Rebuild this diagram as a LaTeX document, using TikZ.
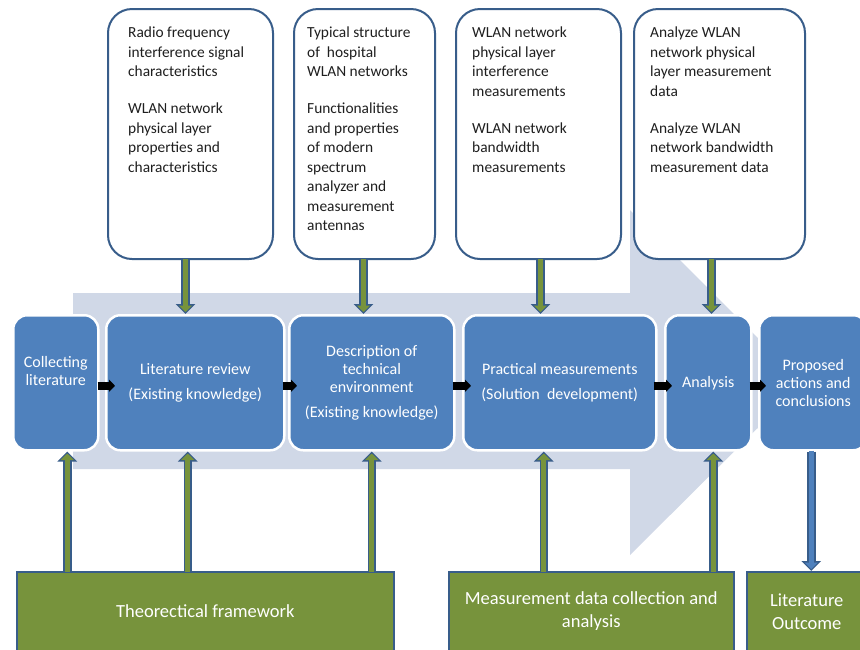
\documentclass[tikz,border=0pt]{standalone}
\usepackage{fontspec}
\setmainfont{Carlito}
\usetikzlibrary{arrows.meta,calc}
\definecolor{boxblue}{HTML}{4F81BD}
\definecolor{bandc}{HTML}{D0D8E7}
\definecolor{grn}{HTML}{77933C}
\definecolor{edgec}{HTML}{385D8A}
\definecolor{txtc}{HTML}{1F1F1F}
\begin{document}
\begin{tikzpicture}[x=1pt,y=-1pt,
  blueb/.style={draw=white, line width=2.5pt, fill=boxblue, rounded corners=14pt, anchor=north west, text=white, align=center, font=\fontsize{16}{18}\selectfont, inner sep=0pt},
  bluetxt/.style={text=white, align=center, font=\fontsize{16}{18}\selectfont, inner sep=0pt},
  topb/.style={draw=edgec, line width=2pt, fill=white, rounded corners=24pt, anchor=north west, inner sep=0pt},
  toptxt/.style={anchor=north west, align=left, font=\fontsize{15.4}{19.5}\selectfont, text=txtc, inner sep=0pt},
  grnb/.style={draw=edgec, line width=1.5pt, fill=grn, anchor=north west, inner sep=0pt},
  grntxt/.style={text=white, align=center, font=\fontsize{18.5}{23}\selectfont, inner sep=0pt},
  blkarr/.style={black, line width=8pt, -{Triangle[length=6pt,width=12pt]}},
  gout/.style={edgec, line width=8.5pt, -{Triangle[length=10pt,width=19pt]}},
  gin/.style={grn, line width=5pt, -{Triangle[length=6.5pt,width=13pt]}, shorten >=2pt},
  bin/.style={boxblue, line width=5pt, -{Triangle[length=6.5pt,width=13pt]}, shorten >=2pt}
]
\useasboundingbox (0,0) rectangle (860,649);
% background big arrow
\fill[bandc] (73,293) -- (630,293) -- (630,210) -- (803,383) -- (630,555) -- (630,469) -- (73,469) -- cycle;

% top boxes
\node[topb, minimum width=165pt, minimum height=250pt] (t1) at (107,8) {};
\node[topb, minimum width=141pt, minimum height=250pt] (t2) at (293,8) {};
\node[topb, minimum width=165pt, minimum height=250pt] (t3) at (455,8) {};
\node[topb, minimum width=171pt, minimum height=250pt] (t4) at (633,8) {};
\node[toptxt] (t1x) at (128,27) {Radio frequency\\interference signal\\characteristics\\[17.5pt]WLAN network\\physical layer\\properties and\\characteristics};
\node[toptxt] (t2x) at (307,27) {Typical structure\\of\ \ hospital\\WLAN networks\\[17.5pt]Functionalities\\and properties\\of modern\\spectrum\\analyzer and\\measurement\\antennas};
\node[toptxt] (t3x) at (472,27) {WLAN network\\physical layer\\interference\\measurements\\[17.5pt]WLAN network\\bandwidth\\measurements};
\node[toptxt] (t4x) at (650,27) {Analyze WLAN\\network physical\\layer measurement\\data\\[17.5pt]Analyze WLAN\\network bandwidth\\measurement data};

% blue process boxes
\node[blueb, minimum width=85pt, minimum height=135pt] (cl) at (12,314) {};
\node[bluetxt] (clx) at ($(cl.center)+(0,-12)$) {Collecting\\literature};
\node[blueb, minimum width=178pt, minimum height=135pt] (lr) at (105,314) {Literature review\\[7pt](Existing knowledge)};
\node[blueb, minimum width=165pt, minimum height=135pt] (de) at (288,314) {Description of\\technical\\environment\\[7pt](Existing knowledge)};
\node[blueb, minimum width=193pt, minimum height=135pt] (pm) at (462,314) {Practical measurements\\[7pt](Solution\ \ development)};
\node[blueb, minimum width=86pt, minimum height=135pt] (an) at (664,314) {Analysis};
\node[blueb, minimum width=108pt, minimum height=135pt] (pa) at (758,314) {Proposed\\actions and\\conclusions};

% bottom green boxes
\node[grnb, minimum width=377pt, minimum height=79pt] (tf) at (16,571) {};
\node[grntxt] (tfx) at (tf.center) {Theorectical framework};
\node[grnb, minimum width=285pt, minimum height=79pt] (md) at (448,571) {};
\node[grntxt] (mdx) at (md.center) {Measurement data collection and\\analysis};
\node[grnb, minimum width=120pt, minimum height=79pt] (lo) at (746,571) {};
\node[grntxt] (lox) at (lo.center) {Literature\\Outcome};

% black flow arrows
\draw[blkarr, shorten <=-2pt, shorten >=-10pt] ([yshift=-3]cl.east) -- ([yshift=-3]lr.west);
\draw[blkarr, shorten <=-3pt, shorten >=-9pt] ([yshift=-3]lr.east) -- ([yshift=-3]de.west);
\draw[blkarr, shorten <=-3pt, shorten >=-9pt] ([yshift=-3]de.east) -- ([yshift=-3]pm.west);
\draw[blkarr, shorten <=-4pt, shorten >=-8pt] ([yshift=-3]pm.east) -- ([yshift=-3]an.west);
\draw[blkarr, shorten <=-3pt, shorten >=-8pt] ([yshift=-3]an.east) -- ([yshift=-3]pa.west);

% green arrows from top boxes
\foreach \s/\d/\dx in {t1/lr/-5, t2/de/-1, t3/pm/2, t4/an/-8}{
  \draw[gout] ([xshift=\dx]\s.south) -- ([xshift=\dx]\s.south |- \d.north);
  \draw[gin] ([xshift=\dx,yshift=1]\s.south) -- ([xshift=\dx]\s.south |- \d.north);
}
% green arrows from bottom boxes
\foreach \s/\d/\dx in {tf/cl/11.5, tf/lr/-7.5, tf/de/0, md/pm/-16, md/an/5}{
  \draw[gout] ([xshift=\dx]\d.south |- \s.north) -- ([xshift=\dx]\d.south);
  \draw[gin] ([xshift=\dx,yshift=-1]\d.south |- \s.north) -- ([xshift=\dx]\d.south);
}
% blue down arrow
\draw[gout] ([xshift=-2]pa.south) -- ([xshift=-2]pa.south |- lo.north);
\draw[bin] ([xshift=-2,yshift=1]pa.south) -- ([xshift=-2]pa.south |- lo.north);
\end{tikzpicture}
\end{document}
